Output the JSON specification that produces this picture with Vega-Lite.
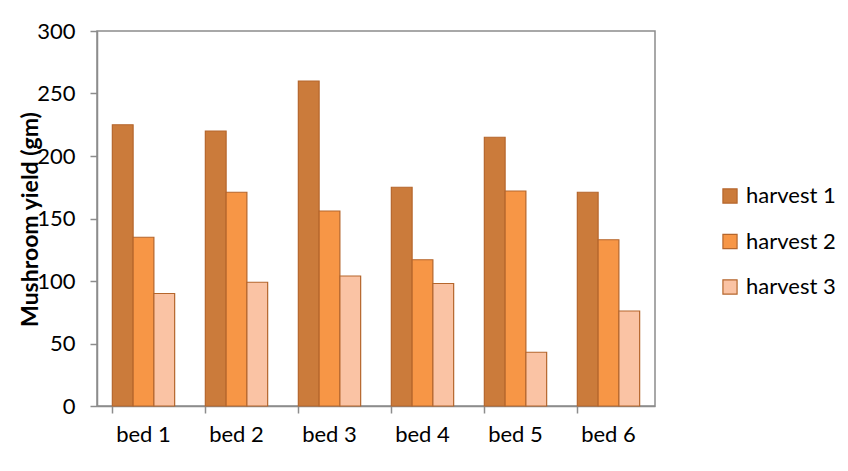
{
  "$schema": "https://vega.github.io/schema/vega-lite/v6.json",
  "width": 558,
  "height": 375,
  "autosize": "none",
  "padding": {"left": 97, "top": 31, "right": 193, "bottom": 65},
  "background": "white",
  "data": {
    "values": [
      {"bed": "bed 1", "harvest": "harvest 1", "yield": 225},
      {"bed": "bed 1", "harvest": "harvest 2", "yield": 135},
      {"bed": "bed 1", "harvest": "harvest 3", "yield": 90},
      {"bed": "bed 2", "harvest": "harvest 1", "yield": 220},
      {"bed": "bed 2", "harvest": "harvest 2", "yield": 171},
      {"bed": "bed 2", "harvest": "harvest 3", "yield": 99},
      {"bed": "bed 3", "harvest": "harvest 1", "yield": 260},
      {"bed": "bed 3", "harvest": "harvest 2", "yield": 156},
      {"bed": "bed 3", "harvest": "harvest 3", "yield": 104},
      {"bed": "bed 4", "harvest": "harvest 1", "yield": 175},
      {"bed": "bed 4", "harvest": "harvest 2", "yield": 117},
      {"bed": "bed 4", "harvest": "harvest 3", "yield": 98},
      {"bed": "bed 5", "harvest": "harvest 1", "yield": 215},
      {"bed": "bed 5", "harvest": "harvest 2", "yield": 172},
      {"bed": "bed 5", "harvest": "harvest 3", "yield": 43},
      {"bed": "bed 6", "harvest": "harvest 1", "yield": 171},
      {"bed": "bed 6", "harvest": "harvest 2", "yield": 133},
      {"bed": "bed 6", "harvest": "harvest 3", "yield": 76}
    ]
  },
  "mark": {"type": "bar", "stroke": "#B5662C", "strokeWidth": 1.2},
  "encoding": {
    "x": {
      "field": "bed",
      "type": "nominal",
      "scale": {"paddingInner": 0.33, "paddingOuter": 0.165},
      "axis": {
        "title": null,
        "labelAngle": 0,
        "bandPosition": 0,
        "labelFontSize": 22,
        "labelPadding": 11,
        "tickSize": 7
      }
    },
    "xOffset": {"field": "harvest", "type": "nominal", "scale": {"paddingInner": 0}},
    "y": {
      "field": "yield",
      "type": "quantitative",
      "scale": {"domain": [0, 300], "nice": false},
      "axis": {
        "title": "Mushroom yield (gm)",
        "values": [0, 50, 100, 150, 200, 250, 300],
        "grid": false,
        "tickSize": 7,
        "labelPadding": 15,
        "labelFontSize": 22,
        "titleFontSize": 23,
        "titleFontWeight": "bold",
        "titleX": -55,
        "titleY": 188
      }
    },
    "color": {
      "field": "harvest",
      "type": "nominal",
      "scale": {
        "domain": ["harvest 1", "harvest 2", "harvest 3"],
        "range": ["#CB7B3B", "#F79646", "#FAC3A4"]
      },
      "legend": {
        "title": null,
        "orient": "none",
        "legendX": 622,
        "legendY": 154,
        "symbolType": "square",
        "symbolSize": 200,
        "symbolStrokeColor": "#B5662C",
        "symbolStrokeWidth": 1.2,
        "labelFontSize": 22,
        "labelOffset": 5,
        "rowPadding": 23.5
      }
    }
  },
  "config": {
    "font": "Lato",
    "view": {"stroke": "#8C8C8C", "strokeWidth": 1.5},
    "axis": {
      "domainColor": "#8C8C8C",
      "domainWidth": 1.5,
      "tickColor": "#8C8C8C",
      "tickWidth": 1.5,
      "labelColor": "#000000",
      "titleColor": "#000000",
      "labelFont": "Lato",
      "titleFont": "Lato"
    },
    "legend": {"labelColor": "#000000", "labelFont": "Lato"}
  }
}
